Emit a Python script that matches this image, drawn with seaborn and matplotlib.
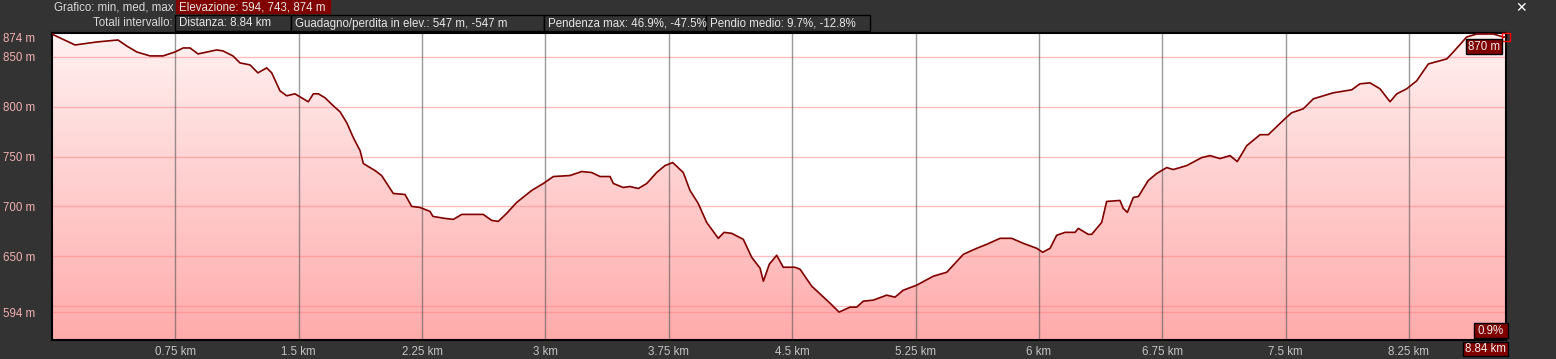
import numpy as np
import pandas as pd
import matplotlib
matplotlib.use("Agg")
import matplotlib.pyplot as plt
import seaborn as sns
from matplotlib.patches import Rectangle, PathPatch
from matplotlib.colors import LinearSegmentedColormap

# ---------------- data ----------------
distance_km = [0.0, 0.024, 0.140, 0.272, 0.401, 0.454, 0.515, 0.596, 0.675, 0.748,
               0.798, 0.839, 0.888, 1.001, 1.040, 1.100, 1.143, 1.204, 1.252, 1.305,
               1.336, 1.386, 1.427, 1.477, 1.518, 1.558, 1.589, 1.619, 1.660, 1.710,
               1.751, 1.792, 1.832, 1.873, 1.893, 1.964, 2.004, 2.075, 2.146, 2.187,
               2.237, 2.298, 2.316, 2.389, 2.440, 2.491, 2.622, 2.673, 2.713, 2.764,
               2.825, 2.916, 2.987, 3.048, 3.149, 3.220, 3.281, 3.332, 3.393, 3.413,
               3.473, 3.514, 3.565, 3.616, 3.676, 3.727, 3.774, 3.838, 3.879, 3.929,
               3.980, 4.051, 4.086, 4.132, 4.203, 4.254, 4.305, 4.325, 4.361, 4.406,
               4.446, 4.517, 4.548, 4.619, 4.730, 4.785, 4.852, 4.892, 4.933, 4.993,
               5.075, 5.125, 5.176, 5.257, 5.358, 5.440, 5.541, 5.622, 5.683, 5.764,
               5.835, 5.905, 5.987, 6.023, 6.068, 6.108, 6.159, 6.220, 6.240, 6.300,
               6.321, 6.382, 6.412, 6.493, 6.513, 6.538, 6.574, 6.605, 6.665, 6.716,
               6.777, 6.817, 6.899, 6.990, 7.041, 7.101, 7.162, 7.206, 7.264, 7.345,
               7.395, 7.496, 7.537, 7.608, 7.669, 7.790, 7.902, 7.952, 8.013, 8.074,
               8.135, 8.176, 8.236, 8.297, 8.368, 8.480, 8.520, 8.601, 8.662, 8.763,
               8.824, 8.84]
elevation_m = [873, 871, 862, 865, 867, 861, 855, 851, 851, 855,
               859, 859, 853, 857, 856, 851, 844, 842, 834, 839,
               834, 816, 811, 813, 809, 805, 813, 813, 809, 801,
               795, 784, 769, 756, 743, 736, 731, 713, 712, 700,
               699, 695, 690, 688, 687, 692, 692, 686, 685, 693,
               704, 716, 723, 730, 731, 735, 734, 730, 730, 723,
               719, 720, 718, 723, 734, 741, 744, 734, 716, 703,
               684, 668, 674, 673, 667, 649, 638, 625, 642, 651,
               639, 639, 637, 620, 603, 594, 599, 599, 605, 606,
               611, 609, 616, 621, 630, 634, 652, 658, 662, 668,
               668, 663, 658, 654, 658, 671, 674, 674, 678, 672,
               672, 684, 705, 706, 698, 694, 709, 710, 726, 733,
               739, 737, 741, 749, 751, 748, 751, 745, 761, 772,
               772, 788, 794, 798, 808, 814, 817, 823, 824, 818,
               805, 813, 818, 826, 843, 848, 855, 870, 873, 873,
               870, 870]

y_ticks = [594, 650, 700, 750, 800, 850, 874]
y_tick_labels = ["594 m", "650 m", "700 m", "750 m", "800 m", "850 m", "874 m"]
x_ticks = [0.75, 1.5, 2.25, 3.0, 3.75, 4.5, 5.25, 6.0, 6.75, 7.5, 8.25]
x_tick_labels = ["0.75 km", "1.5 km", "2.25 km", "3 km", "3.75 km", "4.5 km",
                 "5.25 km", "6 km", "6.75 km", "7.5 km", "8.25 km"]
grid_levels = [594, 600, 650, 700, 750, 800, 850]

row1_label = "Grafico: min, med, max"
row1_box = "Elevazione: 594, 743, 874 m"
row2_label = "Totali intervallo:"
row2_boxes = ["Distanza: 8.84 km",
              "Guadagno/perdita in elev.: 547 m, -547 m",
              "Pendenza max: 46.9%, -47.5%",
              "Pendio medio: 9.7%, -12.8%"]
end_elev_label = "870 m"
end_slope_label = "0.9%"
end_dist_label = "8.84 km"

df = pd.DataFrame({"km": distance_km, "m": elevation_m})

# ---------------- figure ----------------
sns.set_style("white")
plt.rcParams["font.family"] = ["Liberation Sans", "DejaVu Sans"]

W, H = 1556, 359
BG = "#333333"
DARKRED = "#800000"
FS = 8.3
fig = plt.figure(figsize=(W / 100, H / 100), dpi=100, facecolor=BG)

ax_l, ax_r, ax_t, ax_b = 52, 1506, 33, 340
ax = fig.add_axes([ax_l / W, 1 - ax_b / H, (ax_r - ax_l) / W, (ax_b - ax_t) / H])
ax.set_facecolor("white")

YMIN, YMAX = 566, 874
XMAX = distance_km[-1]

# gradient fill under the profile
cmap = LinearSegmentedColormap.from_list("pinkgrad", ["#fff1f1", "#ffabab"])
grad = np.linspace(0, 1, 256).reshape(-1, 1)
im = ax.imshow(grad, extent=[0, XMAX, YMIN, YMAX], aspect="auto", cmap=cmap,
               origin="upper", zorder=1, interpolation="bilinear")
poly = ax.fill_between(df["km"], df["m"], YMIN, facecolor="none", edgecolor="none")
clip = PathPatch(poly.get_paths()[0], transform=ax.transData,
                 facecolor="none", edgecolor="none")
ax.add_patch(clip)
im.set_clip_path(clip)

# grid
for v in grid_levels:
    ax.axhline(v, color="#ff8080", alpha=0.5, lw=1.0, zorder=2)
for v in x_ticks:
    ax.axvline(v, color="#555555", alpha=0.6, lw=1.0, zorder=2)

# profile line
sns.lineplot(data=df, x="km", y="m", ax=ax, color=DARKRED, lw=1.2,
             estimator=None, sort=False, zorder=4)
ax.plot([distance_km[-1]], [elevation_m[-1]], marker="s", ms=6, mfc="none",
        mec="#ff0000", mew=1.0, clip_on=False, zorder=6)

ax.set_xlim(0, XMAX)
ax.set_ylim(YMIN, YMAX)
ax.set_xlabel("")
ax.set_ylabel("")
ax.set_xticks(x_ticks)
ax.set_xticklabels(x_tick_labels)
ax.set_yticks(y_ticks)
ax.set_yticklabels(y_tick_labels)
ax.tick_params(axis="x", length=0, pad=4, labelsize=FS, labelcolor="#c4c4c4")
ax.tick_params(axis="y", length=0, pad=12, labelsize=FS, labelcolor="#f2b0b0")
for lab in ax.get_yticklabels():
    if lab.get_text() == "874 m":
        lab.set_va("top")
for s in ax.spines.values():
    s.set_color("black")
    s.set_linewidth(1.5)
    s.set_visible(True)

# ---------------- header / annotations (pixel helpers) ----------------
def px(x, y):
    return x / W, 1 - y / H

def box(x0, y0, x1, y1, text, fc, ec="black", tx=None, ha="left", color="#e6e6e6"):
    fig.patches.append(Rectangle(px(x0, y1), (x1 - x0) / W, (y1 - y0) / H,
                                 transform=fig.transFigure, facecolor=fc,
                                 edgecolor=ec, lw=1.0, zorder=5))
    if ha == "left":
        xx = x0 + 3 if tx is None else tx
    else:
        xx = (x0 + x1) / 2
    fig.text(*px(xx, (y0 + y1) / 2 + 0.5), text, ha=ha, va="center",
             fontsize=FS, color=color, zorder=6)

fig.text(*px(173, 7), row1_label, ha="right", va="center", fontsize=FS, color="#d8d8d8")
box(176, 0, 330, 13, row1_box, DARKRED, ec=DARKRED)
fig.text(*px(173, 23), row2_label, ha="right", va="center", fontsize=FS, color="#d8d8d8")
edges = [175, 291, 544, 706, 870]
for i, t in enumerate(row2_boxes):
    box(edges[i], 15, edges[i + 1], 31, t, BG, ec="black", tx=edges[i] + 4)

fig.text(*px(1521, 8), "\u2715", ha="center", va="center", fontsize=10,
         color="white", fontweight="bold", family=["DejaVu Sans"])

box(1466, 39, 1502, 54, end_elev_label, DARKRED, ha="center", color="#f0f0f0")
box(1474, 323, 1508, 338, end_slope_label, DARKRED, ha="center", color="#f0f0f0")
box(1463, 342, 1508, 356, end_dist_label, DARKRED, ha="center", color="#f0f0f0")

fig.savefig("out.png", dpi=100, facecolor=BG)
